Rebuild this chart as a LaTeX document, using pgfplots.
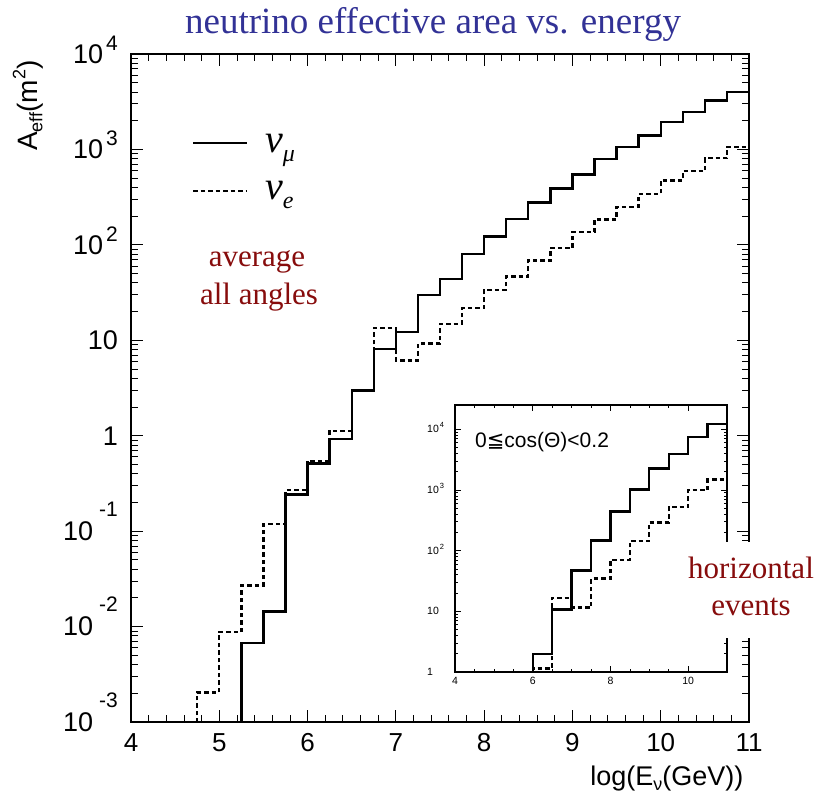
\documentclass[border=0pt]{standalone}
\usepackage{fontspec}
\setmainfont{Liberation Sans}
\newfontfamily\tnr{Liberation Serif}
\newfontfamily\dejavu{DejaVu Sans}
\usepackage{pgfplots}
\pgfplotsset{compat=1.18}
\definecolor{titleblue}{RGB}{50,50,150}
\definecolor{darkred}{RGB}{135,12,12}
\newcommand{\posexp}[1]{\hspace{3pt}\smash{\raisebox{13pt}{\fontsize{21}{21}\selectfont #1}}}
\newcommand{\negexp}[1]{\hspace{6pt}\smash{\raisebox{24pt}{\fontsize{21}{21}\selectfont #1}}}
\newcommand{\insexp}[1]{\hspace{1pt}\smash{\raisebox{5pt}{\fontsize{7.5}{7.5}\selectfont #1}}}

\pgfplotstableread{
x y
5.0 1e-6
5.25 0.0067
5.5 0.0144
5.75 0.241
6.0 0.513
6.25 0.93
6.5 2.98
6.75 8.05
7.0 12.3
7.25 30
7.5 43.8
7.75 80
8.0 122
8.25 186
8.5 277
8.75 388
9.0 548
9.25 791
9.5 1059
9.75 1402
10.0 1938
10.25 2459
10.5 3252
10.75 3997
11.0 3997
}\numu

\pgfplotstableread{
x y
4.5 1e-6
4.75 0.00204
5.0 0.00877
5.25 0.0269
5.5 0.119
5.75 0.269
6.0 0.542
6.25 1.12
6.5 2.95
6.75 13.4
7.0 6.15
7.25 9.26
7.5 14.9
7.75 21.7
8.0 33.5
8.25 46.8
8.5 68.3
8.75 92.3
9.0 136
9.25 184
9.5 249
9.75 341
10.0 471
10.25 591
10.5 809
10.75 1059
11.0 1059
}\nue

\pgfplotstableread{
x y
5.5 1e-3
6.0 1.98
6.5 10.7
7.0 47
7.5 148
8.0 440
8.5 1012
9.0 2248
9.5 3920
10.0 7380
10.5 12090
11.0 12090
}\hnumu

\pgfplotstableread{
x y
5.5 1e-3
6.0 1.15
6.5 16.6
7.0 11.5
7.5 34.5
8.0 70
8.5 143
9.0 293
9.5 518
10.0 988
10.5 1480
11.0 1480
}\hnue

\begin{document}
\begin{tikzpicture}
\useasboundingbox (-131pt,-73pt) rectangle (688pt,722pt);
\begin{axis}[
  at={(0pt,0pt)}, anchor=south west,
  scale only axis, width=618pt, height=668pt,
  xmin=4, xmax=11, ymode=log, ymin=1e-3, ymax=1e4,
  xtick={4,5,6,7,8,9,10,11}, minor x tick num=4,
  ytick={1e-3,1e-2,1e-1,1,10,100,1000,10000},
  yticklabels={10\negexp{-3},10\negexp{-2},10\negexp{-1},1\hspace{21pt},10\hspace{21pt},10\posexp{2},10\posexp{3},10\posexp{4}},
  /pgf/number format/assume math mode=true,
  axis line style={line width=2pt},
  every tick/.style={black, line width=0.8pt},
  major tick length=12pt, minor tick length=7pt,
  xticklabel style={font=\fontsize{26}{26}\selectfont, inner sep=0pt, anchor=north, yshift=-11pt},
  yticklabel style={font=\fontsize{27}{27}\selectfont, inner sep=0pt, anchor=east, xshift=-13pt},
]
\addplot[const plot mark left, black, line width=2.4pt] table[x=x,y=y] {\numu};
\addplot[const plot mark left, black, line width=2.4pt, dash pattern=on 4.5pt off 3pt] table[x=x,y=y] {\nue};
\end{axis}

\begin{axis}[
  at={(324pt,50pt)}, anchor=south west,
  scale only axis, width=272pt, height=267pt,
  xmin=4, xmax=11, ymode=log, ymin=1, ymax=25119,
  xtick={4,6,8,10}, minor x tick num=3,
  ytick={1,10,100,1000,10000},
  yticklabels={1,10,10\insexp{2},10\insexp{3},10\insexp{4}},
  /pgf/number format/assume math mode=true,
  axis background/.style={fill=white},
  axis line style={line width=2pt},
  every tick/.style={black, line width=0.6pt},
  major tick length=6pt, minor tick length=3pt,
  xticklabel style={font=\fontsize{10.5}{10.5}\selectfont, inner sep=0pt, anchor=north, yshift=-5pt},
  yticklabel style={font=\fontsize{10.5}{10.5}\selectfont, inner sep=0pt, anchor=west, xshift=-28pt},
]
\addplot[const plot mark left, black, line width=2.4pt] table[x=x,y=y] {\hnumu};
\addplot[const plot mark left, black, line width=2.4pt, dash pattern=on 4.5pt off 3pt] table[x=x,y=y] {\hnue};
\end{axis}

\fill[white] (552pt,84pt) rectangle (688pt,180pt);

% title
\node[anchor=base, font=\tnr\fontsize{37}{37}\selectfont, text=titleblue] at (302pt,688pt) {neutrino effective area vs. energy};
% axis labels
\node[rotate=90, anchor=east, font=\fontsize{28}{28}\selectfont] at (-103pt,665pt) {A\raisebox{-5pt}{\fontsize{18}{18}\selectfont eff}(m\raisebox{12pt}{\fontsize{18}{18}\selectfont 2})};
\node[anchor=base east, font=\fontsize{27}{27}\selectfont] at (616pt,-63pt) {log(E\raisebox{-5pt}{\fontsize{18}{18}\selectfont ν}(GeV))};
% legend
\draw[line width=2.4pt] (62pt,579pt) -- (116pt,579pt);
\draw[line width=2.4pt, dash pattern=on 4.5pt off 3pt] (62pt,531pt) -- (116pt,531pt);
\node[anchor=base west, inner sep=0pt] at (134pt,569pt) {\tnr\itshape\fontsize{40}{40}\selectfont ν\raisebox{-9pt}{\fontsize{24}{24}\selectfont μ}};
\node[anchor=base west, inner sep=0pt] at (134pt,522pt) {\tnr\itshape\fontsize{40}{40}\selectfont ν\raisebox{-9pt}{\fontsize{24}{24}\selectfont e}};
% annotations
\node[anchor=base, font=\tnr\fontsize{31}{31}\selectfont, text=darkred] at (126pt,455pt) {average};
\node[anchor=base, font=\tnr\fontsize{31}{31}\selectfont, text=darkred] at (128pt,417pt) {all angles};
\node[anchor=base, font=\tnr\fontsize{31}{31}\selectfont, text=darkred] at (620pt,143pt) {horizontal};
\node[anchor=base, font=\tnr\fontsize{31}{31}\selectfont, text=darkred] at (620pt,106pt) {events};
% inset text
\node[anchor=base west, inner sep=0pt, font=\fontsize{21}{21}\selectfont] at (344pt,274pt) {0{\dejavu ≦}cos(Θ)<0.2};
\end{tikzpicture}
\end{document}
